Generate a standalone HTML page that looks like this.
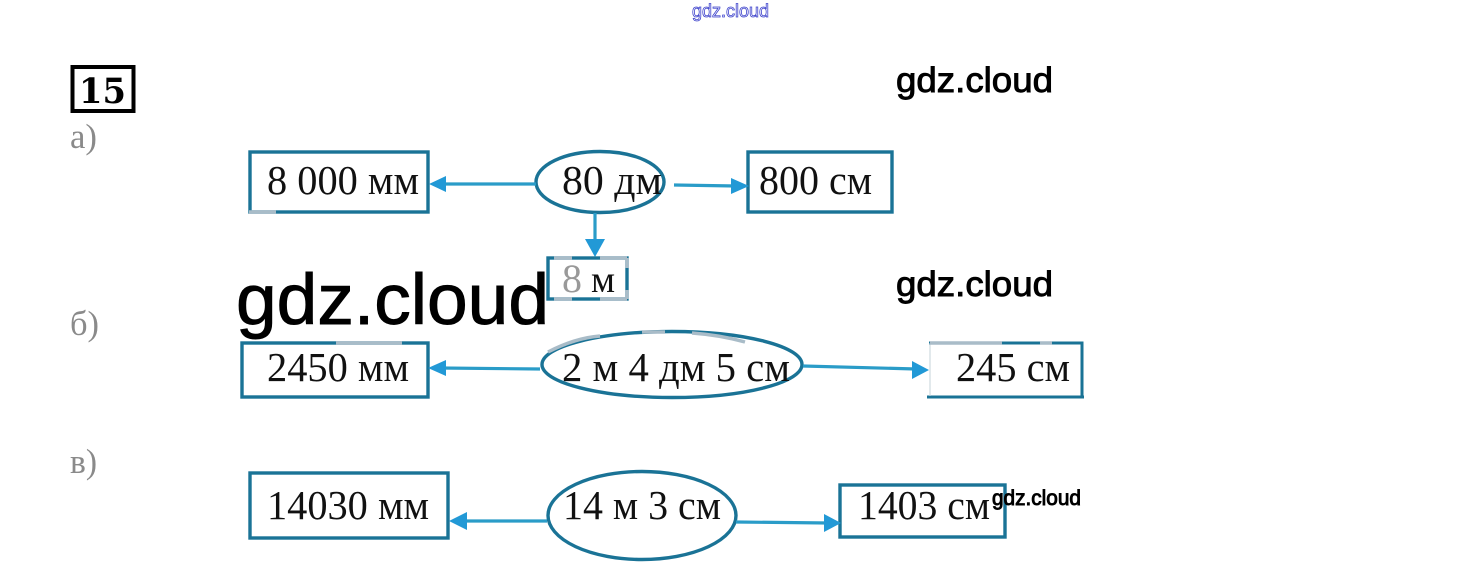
<!DOCTYPE html>
<html><head><meta charset="utf-8"><style>
html,body{margin:0;padding:0;background:#fff;width:1460px;height:575px;overflow:hidden}
svg{display:block}
.t{font-family:"Liberation Serif",serif;font-size:41px;fill:#111}
.g{font-family:"Liberation Serif",serif;font-size:35px;fill:#8a8a8a}
.w{font-family:"Liberation Sans",sans-serif;font-weight:400;fill:#000;stroke:#000;stroke-width:.9}
.b{fill:none;stroke:#1a7396;stroke-width:3.4}
.l{fill:none;stroke:#2a9cc8;stroke-width:3.2}
.h{fill:#2299d6}
.p{fill:none;stroke:#a9bcc8;stroke-width:3.4}
</style></head><body>
<svg width="1460" height="575" viewBox="0 0 1460 575" xmlns="http://www.w3.org/2000/svg">
<text x="692" y="17" font-family="Liberation Sans,sans-serif" font-size="18" fill="#fff" stroke="#3f44cc" stroke-width=".8" textLength="77" lengthAdjust="spacingAndGlyphs">gdz.cloud</text>

<rect x="72.500" y="67" width="61" height="44" fill="none" stroke="#000" stroke-width="4"/>
<text x="79" y="103" font-family="DejaVu Serif,serif" font-weight="700" font-size="35" fill="#000" textLength="47" lengthAdjust="spacingAndGlyphs">15</text>
<text class="g" x="70" y="148" textLength="27" lengthAdjust="spacingAndGlyphs">а)</text>
<text class="g" x="70" y="335" textLength="29" lengthAdjust="spacingAndGlyphs">б)</text>
<text class="g" x="70" y="473" textLength="27" lengthAdjust="spacingAndGlyphs">в)</text>

<!-- a -->
<rect class="b" x="250" y="152" width="178" height="60"/>
<path class="p" d="M249 212H276"/>
<text class="t" x="267" y="194" textLength="152" lengthAdjust="spacingAndGlyphs">8 000 мм</text>
<ellipse class="b" cx="600" cy="182" rx="64" ry="30.500"/>
<text class="t" x="562" y="194" textLength="100" lengthAdjust="spacingAndGlyphs">80 дм</text>
<rect class="b" x="748" y="152" width="144" height="60"/>
<text class="t" x="759" y="194" textLength="113" lengthAdjust="spacingAndGlyphs">800 см</text>
<path class="l" d="M536 184H440"/><path class="h" d="M429 184L446 176V192Z"/>
<path class="l" d="M674 185L736 186"/><path class="h" d="M749 186L731 178V194Z"/>
<path class="l" d="M595 213V245"/><path class="h" d="M595 257L585 239H605Z"/>
<rect class="b" x="548" y="258" width="79" height="41"/>
<path class="p" d="M554 258H572M600 258H627M627 258V268M554 299H572M600 299H627M627 290V299"/>
<text x="562" y="292" font-family="Liberation Serif,serif" font-size="40" fill="#999">8</text>
<text x="591" y="292" font-family="Liberation Serif,serif" font-size="38" fill="#111">м</text>

<!-- b -->
<rect class="b" x="242" y="343" width="186" height="54"/>
<path class="p" d="M336 343H402"/>
<text class="t" x="267" y="381" textLength="142" lengthAdjust="spacingAndGlyphs">2450 мм</text>
<ellipse class="b" cx="672" cy="364.500" rx="130" ry="33"/>
<path class="p" d="M548 352Q575 338 600 336M642 332H665M692 333Q720 335 745 342"/>
<text class="t" x="562" y="381" textLength="228" lengthAdjust="spacingAndGlyphs">2 м 4 дм 5 см</text>
<path class="l" d="M540 369L440 368"/><path class="h" d="M428 368L446 360V376Z"/>
<path class="l" d="M803 366L916 369"/><path class="h" d="M929 370L912 361V379Z"/>
<path d="M929 343H1082V397" fill="none" stroke="#1a7396" stroke-width="3"/>
<path d="M927 397H1084" fill="none" stroke="#1a7396" stroke-width="3"/>
<path d="M930 343V396" fill="none" stroke="#c5d3da" stroke-width="1"/>
<path class="p" d="M930 343H1002M1040 343H1052"/>
<text class="t" x="956" y="381" textLength="114" lengthAdjust="spacingAndGlyphs">245 см</text>

<!-- c -->
<rect class="b" x="250" y="473" width="198" height="65"/>
<text class="t" x="267" y="519" textLength="162" lengthAdjust="spacingAndGlyphs">14030 мм</text>
<ellipse class="b" cx="642" cy="515.500" rx="94" ry="44"/>
<text class="t" x="563" y="519" textLength="158" lengthAdjust="spacingAndGlyphs">14 м 3 см</text>
<rect class="b" x="840" y="485" width="165" height="52"/>
<text class="t" x="858" y="519" textLength="132" lengthAdjust="spacingAndGlyphs">1403 см</text>
<path class="l" d="M547 521H462"/><path class="h" d="M449 521L467 512V530Z"/>
<path class="l" d="M736 522L828 523"/><path class="h" d="M841 523L824 514V532Z"/>

<!-- watermarks -->
<text class="w" x="896" y="92" font-size="35" textLength="157" lengthAdjust="spacingAndGlyphs">gdz.cloud</text>
<text class="w" x="896" y="296" font-size="35" textLength="157" lengthAdjust="spacingAndGlyphs">gdz.cloud</text>
<text class="w" x="236" y="324" font-size="71" stroke-width="1.6" textLength="313" lengthAdjust="spacingAndGlyphs">gdz.cloud</text>
<text class="w" x="992" y="505" font-size="21" textLength="89" lengthAdjust="spacingAndGlyphs">gdz.cloud</text>
</svg>
</body></html>
